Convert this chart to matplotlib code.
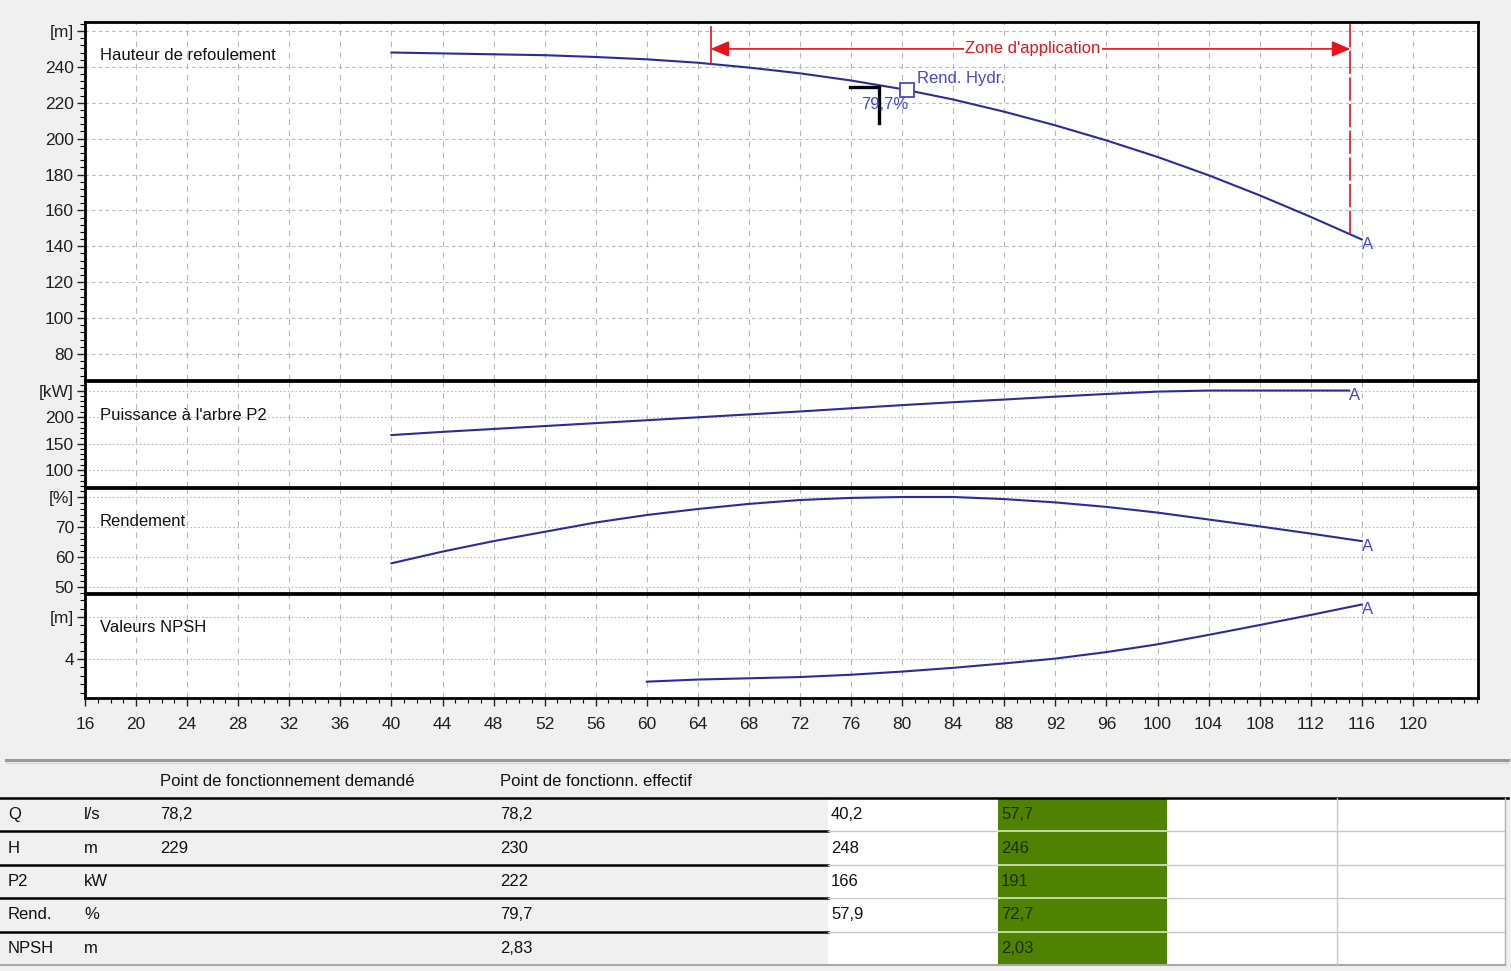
import numpy as np
import matplotlib.pyplot as plt
from matplotlib.ticker import MultipleLocator
from matplotlib.patches import Rectangle

plt.rcParams['font.family'] = ['Liberation Sans', 'DejaVu Sans']

W, H = 1511, 971

# Pump curves, flow in l/s
q = [40, 44, 48, 52, 56, 60, 64, 68, 72, 76, 80, 84, 88, 92, 96, 100, 104, 108, 112, 116]
head = [248, 247.5, 247, 246.5, 245.5, 244.2, 242.3, 239.6, 236.4, 232.4,
        227.6, 221.8, 215, 207.4, 199, 189.8, 179.6, 168.4, 156.4, 143.8]
eff = [57.9, 61.8, 65.3, 68.4, 71.5, 74.0, 76.0, 77.7, 79.0, 79.7,
       80.0, 80.0, 79.3, 78.2, 76.7, 74.8, 72.5, 70.2, 67.8, 65.3]

q_p2 = [40, 44, 48, 52, 56, 60, 64, 68, 72, 76, 80, 84, 88, 92, 96, 100, 104, 108, 112, 115]
power = [166, 172, 177.5, 183, 188.5, 194, 199.5, 205, 210.5, 216.5,
         222.5, 228, 233, 238.5, 243.5, 248, 250, 250, 250, 250]

q_npsh = [60, 64, 68, 72, 76, 80, 84, 88, 92, 96, 100, 104, 108, 112, 116]
npsh = [2.92, 3.02, 3.08, 3.14, 3.25, 3.4, 3.58, 3.79, 4.02, 4.33, 4.7, 5.15, 5.62, 6.1, 6.6]

# Duty point and application range
q_duty, h_duty = 78.2, 229
eff_duty = '79,7%'
q_bep, h_bep = 80.4, 227.2
zone_lo, zone_hi = 65.0, 115.1
zone_h = 250

# Table contents
row_names = ['Q', 'H', 'P2', 'Rend.', 'NPSH']
row_units = ['l/s', 'm', 'kW', '%', 'm']
col_asked = ['78,2', '229', '', '', '']
col_actual = ['78,2', '230', '222', '79,7', '2,83']
col_left = ['40,2', '248', '166', '57,9', '']
col_green = ['57,7', '246', '191', '72,7', '2,03']

curve_c = '#2b2b9e'
label_c = '#4646d2'
red = '#e3141c'
grid_c = '#b8b8b8'
fs = 12

fig = plt.figure(figsize=(W / 100, H / 100), dpi=100, facecolor='#f0f0f0')


def panel(top, bottom):
    return fig.add_axes([85 / W, 1 - bottom / H, (1478 - 85) / W, (bottom - top) / H])


panels = [
    dict(top=22, bottom=380, ylim=(65.5, 265), ticks=[80, 100, 120, 140, 160, 180, 200, 220, 240, 260],
         unit='[m]', minor=4, title='Hauteur de refoulement', hls=(0, (3, 3))),
    dict(top=381, bottom=487, ylim=(68, 268), ticks=[100, 150, 200, 250],
         unit='[kW]', minor=10, title="Puissance à l'arbre P2", hls=(0, (1.5, 2))),
    dict(top=488, bottom=593, ylim=(48, 83), ticks=[50, 60, 70, 80],
         unit='[%]', minor=2, title='Rendement', hls=(0, (1.5, 2))),
    dict(top=594, bottom=698, ylim=(2.14, 7.1), ticks=[4, 6],
         unit='[m]', minor=0.4, title='Valeurs NPSH', hls=(0, (1.5, 2))),
]

axes = []
for i, p in enumerate(panels):
    ax = panel(p['top'], p['bottom'])
    ax.set_facecolor('white')
    ax.set_xlim(16, 125.1)
    ax.set_ylim(*p['ylim'])
    ax.set_yticks(p['ticks'])
    ax.set_yticklabels([str(t) for t in p['ticks'][:-1]] + [p['unit']])
    ax.yaxis.set_minor_locator(MultipleLocator(p['minor']))
    ax.set_xticks(np.arange(16, 121, 4))
    ax.xaxis.set_minor_locator(MultipleLocator(1))
    ax.grid(axis='x', which='major', color=grid_c, ls=(0, (5, 5)), lw=0.8)
    ax.grid(axis='y', which='major', color=grid_c, ls=p['hls'], lw=0.8)
    ax.set_axisbelow(True)
    ax.tick_params(axis='y', which='major', direction='out', length=6, width=1,
                   labelsize=fs + 0.5, pad=2, colors='#202020')
    ax.tick_params(axis='y', which='minor', direction='out', length=3.5, width=0.8)
    if i < 3:
        ax.tick_params(axis='x', which='both', length=0, labelbottom=False)
    else:
        ax.tick_params(axis='x', which='major', direction='out', length=6, width=1,
                       labelsize=fs + 0.5, pad=8, colors='#202020')
        ax.tick_params(axis='x', which='minor', direction='out', length=3.5, width=0.8)
    for s in ax.spines.values():
        s.set_linewidth(2.0)
        s.set_color('black')
    ax.annotate(p['title'], xy=(0, 1), xycoords='axes fraction', xytext=(15, -34),
                textcoords='offset pixels', ha='left', va='center', fontsize=fs, color='#111111')
    axes.append(ax)

ax_h, ax_p, ax_e, ax_n = axes

ax_h.plot(q, head, color=curve_c, lw=1.5, zorder=3)
ax_p.plot(q_p2, power, color=curve_c, lw=1.5, zorder=3)
ax_e.plot(q, eff, color=curve_c, lw=1.5, zorder=3)
ax_n.plot(q_npsh, npsh, color=curve_c, lw=1.5, zorder=3)

# curve end labels
for ax, xs, ys in [(ax_h, q, head), (ax_p, q_p2, power), (ax_e, q, eff), (ax_n, q_npsh, npsh)]:
    ax.annotate('A', xy=(xs[-1], ys[-1]), xytext=(0, -5), textcoords='offset pixels',
                ha='left', va='center', fontsize=fs, color=label_c, zorder=4)

# application range
h_lo = np.interp(zone_lo, q, head)
h_hi = np.interp(zone_hi, q, head)
ax_h.plot([zone_lo, zone_lo], [h_lo, 262], color=red, lw=1.2, zorder=4)
ax_h.plot([zone_hi, zone_hi], [h_hi, 265], color=red, lw=1.2, ls=(0, (14, 2)), zorder=4)
ax_h.annotate('', xy=(zone_lo, zone_h), xytext=(zone_hi, zone_h),
              arrowprops=dict(arrowstyle='<|-|>,head_length=0.7,head_width=0.3', color=red,
                              lw=1.2, mutation_scale=16, shrinkA=0, shrinkB=0), zorder=4)
ax_h.text((zone_lo + zone_hi) / 2 + 0.2, zone_h, "Zone d'application", ha='center', va='center',
          fontsize=fs, color=red, zorder=5,
          bbox=dict(facecolor='white', edgecolor='none', pad=1))

# duty point marker
ax_h.plot([q_duty - 2.3, q_duty, q_duty], [h_duty, h_duty, h_duty - 20.5],
          color='black', lw=2.4, solid_joinstyle='miter', zorder=5)
ax_h.text(q_duty + 0.4, h_duty - 9.7, eff_duty, ha='center', va='center',
          fontsize=fs, color=label_c, zorder=6)
ax_h.plot([q_bep], [h_bep], marker='s', ms=10.5, mfc='white', mec=label_c, mew=1.3, zorder=6)
ax_h.text(q_bep + 0.8, h_bep + 6.5, 'Rend. Hydr.', ha='left', va='center',
          fontsize=fs, color=label_c, zorder=6)

# operating point table
tab = fig.add_axes([0, 0, 1, 1], zorder=-1)
tab.set_xlim(0, W)
tab.set_ylim(H, 0)
tab.axis('off')

tab.add_patch(Rectangle((0, 764), 1505, 33, facecolor='#f0f0f0', edgecolor='none'))
tab.plot([6, 1508], [760, 760], color='#9a9a9a', lw=2.2)
tab.plot([6, 1508], [763, 763], color='#d8d8d8', lw=1)
tab.text(160, 781, 'Point de fonctionnement demandé', ha='left', va='center', fontsize=fs, color='#111111')
tab.text(500, 781, 'Point de fonctionn. effectif', ha='left', va='center', fontsize=fs, color='#111111')

row_top = 798
row_h = 33.4
tab.add_patch(Rectangle((0, row_top), 828, row_h * 5, facecolor='#f0f0f0', edgecolor='none'))
tab.add_patch(Rectangle((828, row_top), 170, row_h * 5, facecolor='white', edgecolor='none'))
tab.add_patch(Rectangle((998, row_top), 169, row_h * 5, facecolor='#4f8200', edgecolor='none'))
tab.add_patch(Rectangle((1167, row_top), 338, row_h * 5, facecolor='white', edgecolor='none'))

for i in range(5):
    yc = row_top + row_h * (i + 0.5)
    yb = row_top + row_h * (i + 1)
    tab.text(8, yc, row_names[i], ha='left', va='center', fontsize=fs, color='#111111')
    tab.text(84, yc, row_units[i], ha='left', va='center', fontsize=fs, color='#111111')
    tab.text(160, yc, col_asked[i], ha='left', va='center', fontsize=fs, color='#111111')
    tab.text(500, yc, col_actual[i], ha='left', va='center', fontsize=fs, color='#111111')
    tab.text(831, yc, col_left[i], ha='left', va='center', fontsize=fs, color='#111111')
    tab.text(1001, yc, col_green[i], ha='left', va='center', fontsize=fs, color='#1d2d0a')
    if i < 4:
        tab.plot([0, 828], [yb - 1, yb - 1], color='#fafafa', lw=1)
        tab.plot([0, 828], [yb, yb], color='black', lw=1.8)
        tab.plot([828, 998], [yb, yb], color='#c8c8c8', lw=1)
        tab.plot([998, 1167], [yb, yb], color='#d9e6c6', lw=1.2)
        tab.plot([1167, 1505], [yb, yb], color='#c8c8c8', lw=1)
    else:
        tab.plot([0, 1505], [yb, yb], color='#a8a8a8', lw=1.5)

tab.plot([0, 1508], [row_top, row_top], color='black', lw=1.8)
tab.plot([1337, 1337], [row_top, row_top + row_h * 5], color='#c8c8c8', lw=1)
tab.plot([1505, 1505], [row_top, row_top + row_h * 5], color='#b0b0b0', lw=1)

fig.savefig('out.png', dpi=100, facecolor=fig.get_facecolor())
